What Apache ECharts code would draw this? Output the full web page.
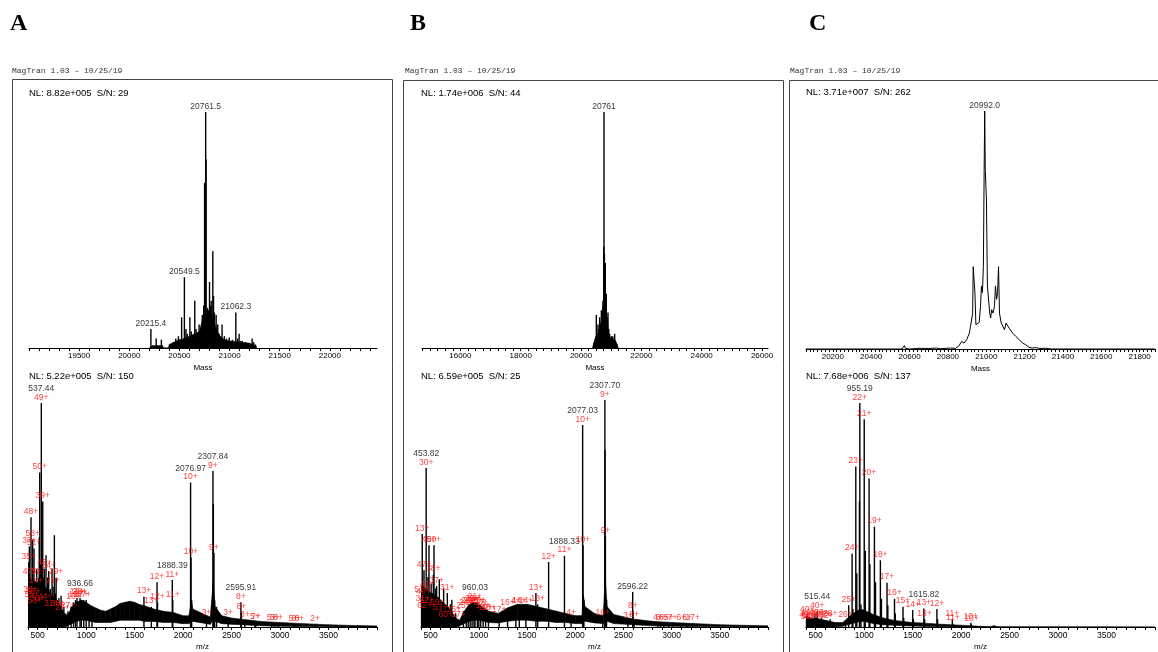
<!DOCTYPE html>
<html>
<head>
<meta charset="utf-8">
<script src="https://cdn.jsdelivr.net/npm/echarts@6/dist/echarts.min.js"></script>
<style>
  html, body { margin: 0; padding: 0; background: #fff; }
  #chart { width: 1158px; height: 652px; }
</style>
</head>
<body>
<div id="chart"></div>
<script>
// ---------- Panel A ----------
const nlA = ['NL: 8.82e+005  S/N: 29', 'NL: 5.22e+005  S/N: 150'];
// deconvoluted mass spectrum: [mass, relative intensity, label]
const massPeaksA = [
  [20215.4, 8, '20215.4'], [20268, 4], [20320, 3.5], [20408, 1.5], [20441, 2.5], [20464, 4],
  [20490, 5], [20510, 3], [20522, 13], [20549.5, 30, '20549.5'], [20565, 8], [20578, 6],
  [20604, 13], [20618, 7], [20630, 5], [20653, 20], [20665, 8], [20676, 6], [20696, 10],
  [20712, 7], [20728, 14], [20742, 18], [20751, 70], [20761.5, 100, '20761.5'], [20766, 80],
  [20780, 17], [20791, 16], [20800, 28], [20809, 18], [20817, 20], [20833, 41], [20840, 22],
  [20849, 15], [20866, 14], [20882, 10], [20898, 6], [20910, 5], [20925, 10], [20948, 5],
  [20970, 4], [20997, 4.5], [21029, 3.5], [21062.3, 15, '21062.3'], [21080, 4], [21095, 6],
  [21110, 3], [21127, 3], [21160, 2.5], [21190, 2], [21225, 4], [21240, 2.5], [21258, 1.5]
];
// noise floor of the deconvoluted trace: [mass, low, high]
const massBandA = [
  [20200, 0, 0], [20230, 0, 1], [20330, 0, 1], [20345, 0, 0], [20390, 0, 0], [20400, 0, 1.5],
  [20450, 0, 2.5], [20500, 0, 3.5], [20550, 0, 4], [20600, 0, 5], [20650, 0, 6], [20700, 0, 7],
  [20740, 0, 14], [20770, 0, 16], [20800, 0, 15], [20830, 0, 14], [20860, 0, 9], [20900, 0, 5],
  [20950, 0, 3.5], [21000, 0, 3], [21100, 0, 2.5], [21200, 0, 2], [21260, 0, 1], [21270, 0, 0]
];
const massTicksA = [19500, 20000, 20500, 21000, 21500, 22000];
// raw m/z spectrum: [m/z, relative intensity, m/z label, charge label]
const mzPeaksA = [
  [407, 29, '', '35+'], [414, 36, '', '37+'], [421, 22, '', '47+'], [426, 14, '', '38+'],
  [431, 49, '', '48+'], [438, 12, '', '55+'], [443, 16, '', ''], [448, 39, '', '58+'],
  [455, 13, '', '33+'], [462, 35, '', '51+'], [470, 9, '', '53+'], [476, 20, '', ''],
  [483, 18, '', '14+'], [490, 26, '', ''], [497, 10, '', '30+'], [503, 15, '', ''],
  [510, 22, '', '52+'], [516, 40, '', ''], [521, 69, '', '50+'], [530, 28, '', ''],
  [537.44, 100, '537.44', '49+'], [545, 30, '', ''], [552, 56, '', '39+'], [560, 22, '', ''],
  [569, 26, '', '43+'], [578, 11, '', '44+'], [586, 32, '', ''], [595, 15, '', ''],
  [603, 22, '', ''], [614, 25, '', '34+'], [622, 14, '', ''], [630, 17, '', ''],
  [640, 8, '', '31+'], [648, 26, '', ''], [658, 18, '', '21+'], [665, 12, '', ''],
  [672, 41, '', ''], [681, 15, '', ''], [690, 22, '', '29+'], [700, 12, '', ''],
  [708, 8, '', '38+'], [718, 13, '', ''], [730, 9, '', ''], [741, 14, '', ''],
  [755, 6, '', '27+'], [770, 9, '', ''], [790, 6, '', ''], [812, 7, '', '27+'],
  [845, 9, '', ''], [870, 11, '', '16+'], [890, 12, '', '19+'], [905, 13, '', '18+'],
  [936.66, 13, '936.66', '28+'], [950, 12, '', '27+'], [975, 12, '', '17+'], [1000, 12, '', ''],
  [1030, 10, '', ''], [1060, 9, '', ''], [1596, 13.5, '', '13+'], [1672, 9, '', '13+'],
  [1731, 20, '', '12+'], [1736, 11, '', '12+'], [1888.39, 21, '1888.39', '11+'], [1893, 12, '', '11+'],
  [2076.97, 64.5, '2076.97', '10+'], [2082, 31, '', '10+'], [2088, 12, '', ''], [2241, 4, '', '3+'],
  [2307.84, 69.6, '2307.84', '9+'], [2312, 55, '', ''], [2318, 33, '', '9+'], [2325, 12, '', ''],
  [2345, 9, '', ''], [2465, 4, '', '3+'], [2595.91, 11, '2595.91', '8+'], [2601, 6.5, '', '8+'],
  [2637, 3, '', '3+'], [2741, 2, '', '5+'], [2750, 2, '', '7+'], [2914, 1.5, '', '5+'],
  [2945, 1.5, '', '5+'], [2980, 1.5, '', '6+'], [3138, 1.2, '', '5+'], [3165, 1.2, '', '6+'],
  [3200, 1.2, '', '6+'], [3362, 1.2, '', '2+']
];
const mzBandA = [
  [400, 0, 22], [450, 0, 21], [500, 0, 20], [550, 0, 19], [600, 0, 17], [650, 0, 14],
  [700, 0, 12], [750, 0, 8], [790, 0.3, 5], [820, 0.8, 6], [850, 1.5, 9], [900, 2.5, 11],
  [950, 3, 12], [1000, 3, 11], [1050, 2.5, 9.5], [1100, 2, 8.5], [1150, 2, 7.5],
  [1200, 2, 7], [1250, 2, 8], [1300, 2.5, 9], [1350, 3, 10.5], [1400, 3, 11],
  [1450, 3, 11.5], [1500, 3, 11], [1550, 3, 10], [1600, 2.5, 9.5], [1700, 2.5, 8],
  [1800, 2, 7], [1900, 2, 6.5], [2000, 1.5, 5], [2060, 1.5, 5], [2085, 3, 12],
  [2100, 2.5, 8], [2200, 1.8, 6], [2280, 1.2, 4.5], [2310, 3, 20], [2330, 2.5, 9], [2400, 1.5, 5],
  [2500, 1.2, 4], [2600, 1, 3.5], [2700, 0.8, 3], [2800, 0.6, 2.5], [3000, 0.3, 2],
  [3250, 0.2, 1.5], [3500, 0.1, 1], [3750, 0.05, 0.7], [4000, 0, 0.5]
];

// ---------- Panel B ----------
const nlB = ['NL: 1.74e+006  S/N: 44', 'NL: 6.59e+005  S/N: 25'];
const massPeaksB = [
  [20430, 2], [20470, 4], [20507, 14], [20530, 6], [20562, 10], [20590, 8], [20617, 13],
  [20645, 9], [20673, 16], [20700, 12], [20728, 20], [20752, 43], [20761, 100, '20761'],
  [20775, 40], [20805, 36], [20820, 20], [20838, 23], [20865, 13], [20894, 15], [20920, 8],
  [20949, 6], [20975, 4], [21004, 5], [21050, 5], [21090, 4], [21115, 6], [21140, 3], [21170, 2]
];
const massBandB = [
  [20380, 0, 0], [20420, 0, 2], [20500, 0, 5], [20560, 0, 6], [20620, 0, 9], [20680, 0, 12],
  [20730, 0, 18], [20770, 0, 22], [20820, 0, 18], [20870, 0, 12], [20920, 0, 6], [20970, 0, 4],
  [21050, 0, 3.5], [21120, 0, 3.5], [21200, 0, 1.5], [21230, 0, 0]
];
const massTicksB = [16000, 18000, 20000, 22000, 24000, 26000];
const mzPeaksB = [
  [405, 14, '', '51+'], [413, 41, '', '13+'], [418, 10, '', '31+'], [425, 13, '', '40+'],
  [431, 25, '', '47+'], [437, 7, '', '62+'], [443, 12, '', ''], [453.82, 70, '453.82', '30+'],
  [460, 9, '', '52+'], [465, 16, '', '41+'], [472, 22, '', ''], [478, 11, '', ''],
  [483, 36, '', '49+'], [490, 14, '', ''], [497, 9, '', ''], [505, 19, '', ''], [512, 12, '', ''],
  [520, 15, '', ''], [528, 23, '', '38+'], [535, 36, '', '50+'], [545, 12, '', ''], [552, 17, '', ''],
  [562, 18, '', '37+'], [569, 8, '', '69+'], [580, 13, '', ''], [590, 21, '', ''], [600, 6, '', '53+'],
  [612, 10, '', ''], [635, 17, '', ''], [645, 9, '', ''], [656, 3, '', '60+'], [673, 15, '', '31+'],
  [690, 7, '', ''], [705, 10, '', ''], [720, 12, '', ''], [740, 5, '', '35+'], [760, 6, '', ''],
  [790, 3, '', '27+'], [840, 7, '', '25+'], [870, 8, '', '24+'], [890, 9, '', '23+'],
  [910, 9, '', '23+'], [930, 10, '', '22+'], [950, 10, '', '22+'], [960.03, 11, '960.03', '21+'],
  [985, 9, '', '21+'], [1000, 9, '', '20+'], [1020, 8, '', '20+'], [1045, 7, '', '19+'],
  [1070, 6, '', '19+'], [1100, 6, '', '18+'], [1211, 5, '', '17+'], [1298, 8, '', '16+'],
  [1384, 9, '', '4+'], [1420, 9, '', '14+'], [1488, 9, '', '14+'], [1592, 15, '', '13+'],
  [1610, 10, '', '13+'], [1724, 28.6, '', '12+'], [1888.33, 31.4, '1888.33', '11+'],
  [1957, 4, '', '4+'], [2077.03, 89, '2077.03', '10+'], [2081, 36, '', '10+'], [2090, 12, '', ''],
  [2286, 4, '', '16+'], [2307.70, 100, '2307.70', '9+'], [2309, 78, '', ''], [2313, 40, '', '9+'],
  [2325, 12, '', ''], [2546, 2.5, '', '3+'], [2596.22, 15.4, '2596.22', ''], [2599, 7, '', '8+'],
  [2610, 3, '', '8+'], [2858, 1.5, '', '4+'], [2885, 1.5, '', '6+'], [2920, 1.5, '', '6+'],
  [2970, 1.5, '', '5+'], [3010, 1.5, '', '7+'], [3100, 1.5, '', '6+'], [3160, 1.5, '', '6+'],
  [3220, 1.5, '', '17+']
];
const mzBandB = [
  [400, 0, 18], [450, 0, 17], [500, 0, 15], [550, 0, 14], [600, 0, 12], [650, 0, 10],
  [700, 0, 8], [760, 0, 4], [800, 0.5, 3], [850, 1.5, 7], [900, 2.5, 10], [950, 3, 11],
  [1000, 3, 10], [1100, 2, 7], [1200, 1.8, 6], [1300, 2.5, 8.5], [1400, 3, 10], [1500, 3, 10],
  [1600, 2.5, 9], [1700, 2.5, 8], [1800, 2, 7], [1900, 2, 6], [2000, 1.5, 5], [2070, 1.5, 5],
  [2085, 3, 14], [2100, 2.5, 9], [2200, 1.8, 6], [2290, 1.5, 5], [2312, 3, 22], [2330, 2.5, 9],
  [2400, 1.5, 5.5], [2600, 1, 3.5], [2800, 0.5, 2.5], [3000, 0.3, 2], [3500, 0.1, 1], [4000, 0, 0.5]
];

// ---------- Panel C ----------
const nlC = ['NL: 3.71e+007  S/N: 262', 'NL: 7.68e+006  S/N: 137'];
// deconvoluted profile: [mass, relative intensity]
const massProfileC = [
  [20060, 0], [20560, 0], [20570, 0.3], [20573, 1.4], [20578, 0.3], [20600, 0], [20650, 0.3],
  [20700, 0.2], [20740, 0.4], [20760, 0.1], [20812, 0.4], [20840, 0.3], [20855, 1.1], [20872, 3.2],
  [20884, 2.5], [20898, 3.9], [20912, 6.7], [20918, 9.5], [20929, 15], [20932, 34.6], [20937, 35.3],
  [20941, 23.5], [20946, 10.2], [20953, 10.9], [20963, 11.2], [20970, 17.9], [20975, 26.5],
  [20980, 23.7], [20985, 34.6], [20989, 75], [20992, 100], [20995, 75], [21001, 62.6], [21006, 26.5],
  [21011, 27.2], [21018, 15.1], [21023, 13], [21028, 16.5], [21035, 15.1], [21043, 17.9],
  [21048, 26.5], [21054, 20.9], [21059, 23.7], [21064, 34.6], [21069, 15.1], [21078, 10.9],
  [21086, 10.2], [21095, 8.1], [21103, 10.9], [21112, 10.2], [21120, 8.7], [21129, 9.5],
  [21137, 6.7], [21154, 5.3], [21172, 3.9], [21189, 2.5], [21206, 1.8], [21223, 0.7], [21240, 0.4],
  [21257, 0.6], [21280, 0.2], [21309, 0.3], [21340, 0], [21880, 0]
];
const massLabelsC = [[20992, 100, '20992.0']];
const massTicksC = [20200, 20400, 20600, 20800, 21000, 21200, 21400, 21600, 21800];
const mzPeaksC = [
  [405, 3, '', '49+'], [412, 5, '', '40+'], [420, 2, '', '58+'], [428, 4, '', '19+'],
  [436, 2.5, '', '51+'], [445, 3, '', ''], [460, 2, '', '41+'], [475, 3.5, '', ''], [490, 6, '', ''],
  [505, 4, '', '49+'], [515.44, 7, '515.44', '40+'], [530, 3, '', '22+'], [545, 2, '', ''],
  [560, 4, '', '23+'], [585, 3, '', '42+'], [610, 2.5, '', '12+'], [650, 3.5, '', '28+'],
  [680, 2, '', ''], [808.4, 2.9, '', '26+'], [840.7, 9.7, '', '25+'], [875.7, 32.7, '', '24+'],
  [884, 8, '', ''], [913.7, 71.6, '', '23+'], [923.8, 24, '', ''], [951, 56, '', ''],
  [955.19, 100, '955.19', '22+'], [967, 10, '', ''], [1000.6, 92.8, '', '21+'], [1012, 34, '', ''],
  [1050.6, 66.3, '', '20+'], [1059, 28, '', ''], [1105.8, 44.8, '', '19+'], [1117, 20, '', ''],
  [1167.2, 29.8, '', '18+'], [1178, 12.6, '', ''], [1235.8, 19.8, '', '17+'], [1244, 9.7, '', ''],
  [1313.0, 12.6, '', '16+'], [1321, 6, '', ''], [1400.5, 9, '', '15+'], [1408, 4, '', ''],
  [1500.4, 7.6, '', '14+'], [1508, 3.5, '', ''], [1615.82, 8.3, '1615.82', '13+'], [1623, 3.5, '', '13+'],
  [1750.3, 8, '', '12+'], [1757, 3.5, '', ''], [1909.4, 3.3, '', '11+'], [1915, 1.5, '', '11+'],
  [2100.2, 1.9, '', '10+'], [2106, 1.2, '', '10+']
];
const mzBandC = [
  [400, 0, 5], [450, 0, 4], [500, 0, 4], [550, 0, 3.5], [600, 0, 3], [700, 0, 2], [780, 0.3, 2],
  [830, 1, 4], [870, 1.5, 5.5], [920, 2, 7], [960, 2.5, 8], [1000, 2.5, 7.5], [1050, 2, 6.5],
  [1100, 1.5, 5.5], [1200, 1, 4], [1300, 0.8, 3], [1400, 0.6, 2.5], [1500, 0.4, 2], [1600, 0.3, 1.8],
  [1700, 0.2, 1.5], [1800, 0.1, 1.2], [1900, 0.1, 1], [2000, 0, 0.8], [2100, 0, 0.6], [2200, 0, 0.3],
  [2300, 0, 0.1], [2340, 0, 0.6], [2380, 0, 0.1], [4000, 0, 0]
];

const mzTicks = [500, 1000, 1500, 2000, 2500, 3000, 3500];
const header = 'MagTran 1.03 \u2013 10/25/19';

// ---------- drawing helpers ----------
const SANS = '"Liberation Sans", Arial, Helvetica, sans-serif';
const RED = '#ff1010';

function steps(from, to, step) {
  const out = [];
  for (let v = from; v <= to + 1e-9; v += step) out.push(+v.toFixed(3));
  return out;
}

function xAxisFor(gi, min, max, labels, ticks, name, fs) {
  return {
    type: 'value', gridIndex: gi, min: min, max: max,
    name: name, nameLocation: 'middle', nameGap: 16,
    nameTextStyle: { fontSize: 8, color: '#000', fontFamily: SANS },
    axisLine: { show: true, onZero: false, lineStyle: { color: '#000', width: 1 } },
    axisTick: { show: true, length: 3, customValues: ticks, lineStyle: { color: '#000', width: 1 } },
    axisLabel: { customValues: labels, fontSize: fs, margin: 4, color: '#000', fontFamily: SANS,
                 formatter: v => String(v) },
    splitLine: { show: false }
  };
}
function yAxisFor(gi) {
  return { type: 'value', gridIndex: gi, min: 0, max: 100, show: false };
}

// noise band: filled polygon between the low and high envelopes of consecutive rows
function bandSeries(gi, band) {
  return {
    type: 'custom', xAxisIndex: gi, yAxisIndex: gi, silent: true, animation: false, z: 2,
    data: band, encode: { x: 0, y: [1, 2] }, clip: true,
    renderItem: function (params, api) {
      const i = params.dataIndex;
      if (i >= band.length - 1) return null;
      const a = band[i], b = band[i + 1];
      const pts = [
        api.coord([a[0], a[1]]), api.coord([b[0], b[1]]),
        api.coord([b[0], b[2]]), api.coord([a[0], a[2]])
      ];
      return { type: 'polygon', shape: { points: pts },
               style: { fill: '#000', stroke: '#000', lineWidth: 0.6 } };
    }
  };
}
function stickSeries(gi, peaks) {
  return { type: 'bar', xAxisIndex: gi, yAxisIndex: gi, barWidth: 1.4, silent: true,
           itemStyle: { color: '#000' }, data: peaks.map(p => [p[0], p[1]]), animation: false, z: 3 };
}
function labelSeries(gi, peaks, massIdx, chargeIdx) {
  const items = peaks.filter(p => p[massIdx] || (chargeIdx != null && p[chargeIdx])).map(p => {
    const parts = [];
    if (p[massIdx]) parts.push('{m|' + p[massIdx] + '}');
    if (chargeIdx != null && p[chargeIdx]) parts.push('{z|' + p[chargeIdx] + '}');
    return { value: [p[0], p[1]], label: { formatter: parts.join('\n') } };
  });
  return {
    type: 'scatter', xAxisIndex: gi, yAxisIndex: gi, symbolSize: 1, silent: true,
    itemStyle: { color: 'rgba(0,0,0,0)' }, animation: false, z: 5,
    label: { show: true, position: 'top', distance: 1,
      rich: {
        m: { fontSize: 8.5, lineHeight: 8.5, color: '#000', fontFamily: SANS },
        z: { fontSize: 8.5, lineHeight: 8.5, color: RED, fontFamily: SANS }
      } },
    data: items
  };
}

// ---------- layout ----------
const grids = [
  { left: 29, top: 112, width: 348, height: 236 },   // A mass
  { left: 28, top: 403, width: 349, height: 230 },   // A m/z
  { left: 422, top: 112, width: 346, height: 236 },  // B mass
  { left: 421, top: 400, width: 347, height: 233 },  // B m/z
  { left: 806, top: 111, width: 349, height: 238 },  // C mass
  { left: 806, top: 403, width: 349, height: 233 }   // C m/z
];

const xAxes = [
  xAxisFor(0, 19000, 22470, massTicksA, steps(19000, 22400, 100), 'Mass', 8),
  xAxisFor(1, 400, 4000, mzTicks, steps(400, 4000, 100), 'm/z', 8.5),
  xAxisFor(2, 14728, 26198, massTicksB, steps(14750, 26000, 250), 'Mass', 8),
  xAxisFor(3, 400, 4000, mzTicks, steps(400, 4000, 100), 'm/z', 8.5),
  xAxisFor(4, 20060, 21880, massTicksC, steps(20060, 21880, 20), 'Mass', 8),
  xAxisFor(5, 400, 4000, mzTicks, steps(400, 4000, 100), 'm/z', 8.5)
];
const yAxes = [0, 1, 2, 3, 4, 5].map(yAxisFor);

const series = [
  bandSeries(0, massBandA), stickSeries(0, massPeaksA), labelSeries(0, massPeaksA, 2, null),
  bandSeries(1, mzBandA), stickSeries(1, mzPeaksA), labelSeries(1, mzPeaksA, 2, 3),
  bandSeries(2, massBandB), stickSeries(2, massPeaksB), labelSeries(2, massPeaksB, 2, null),
  bandSeries(3, mzBandB), stickSeries(3, mzPeaksB), labelSeries(3, mzPeaksB, 2, 3),
  { type: 'line', xAxisIndex: 4, yAxisIndex: 4, symbol: 'none', silent: true, animation: false,
    lineStyle: { color: '#000', width: 1 }, data: massProfileC, z: 3 },
  labelSeries(4, massLabelsC, 2, null),
  bandSeries(5, mzBandC), stickSeries(5, mzPeaksC), labelSeries(5, mzPeaksC, 2, 3)
];

// panel frames, captions and headers
const panels = [
  { letter: 'A', lx: 10, frame: [12, 79, 380], hx: 12, nl: nlA, nlx: 29, nly: [94, 377] },
  { letter: 'B', lx: 410, frame: [403, 80, 380], hx: 405, nl: nlB, nlx: 421, nly: [94, 377] },
  { letter: 'C', lx: 809, frame: [789, 80, 400], hx: 790, nl: nlC, nlx: 806, nly: [93, 377] }
];
const graphic = [];
panels.forEach(p => {
  graphic.push({ type: 'text', left: p.lx, top: 12, silent: true,
    style: { text: p.letter, font: 'bold 24px "Liberation Serif", "Times New Roman", serif', fill: '#000' } });
  graphic.push({ type: 'text', left: p.hx, top: 67, silent: true,
    style: { text: header, font: '8px "Liberation Mono", "Courier New", monospace', fill: '#333' } });
  graphic.push({ type: 'rect', silent: true, z: 0,
    shape: { x: p.frame[0] + 0.5, y: p.frame[1] + 0.5, width: p.frame[2], height: 620 },
    style: { fill: 'none', stroke: '#444', lineWidth: 1 } });
  p.nl.forEach((t, i) => {
    graphic.push({ type: 'text', left: p.nlx, top: p.nly[i] - 6, silent: true,
      style: { text: t, font: '9.5px ' + SANS, fill: '#000' } });
  });
});

const chart = echarts.init(document.getElementById('chart'), null, { renderer: 'canvas' });
chart.setOption({
  animation: false,
  backgroundColor: '#fff',
  grid: grids,
  xAxis: xAxes,
  yAxis: yAxes,
  series: series,
  graphic: graphic
});
</script>
</body>
</html>
